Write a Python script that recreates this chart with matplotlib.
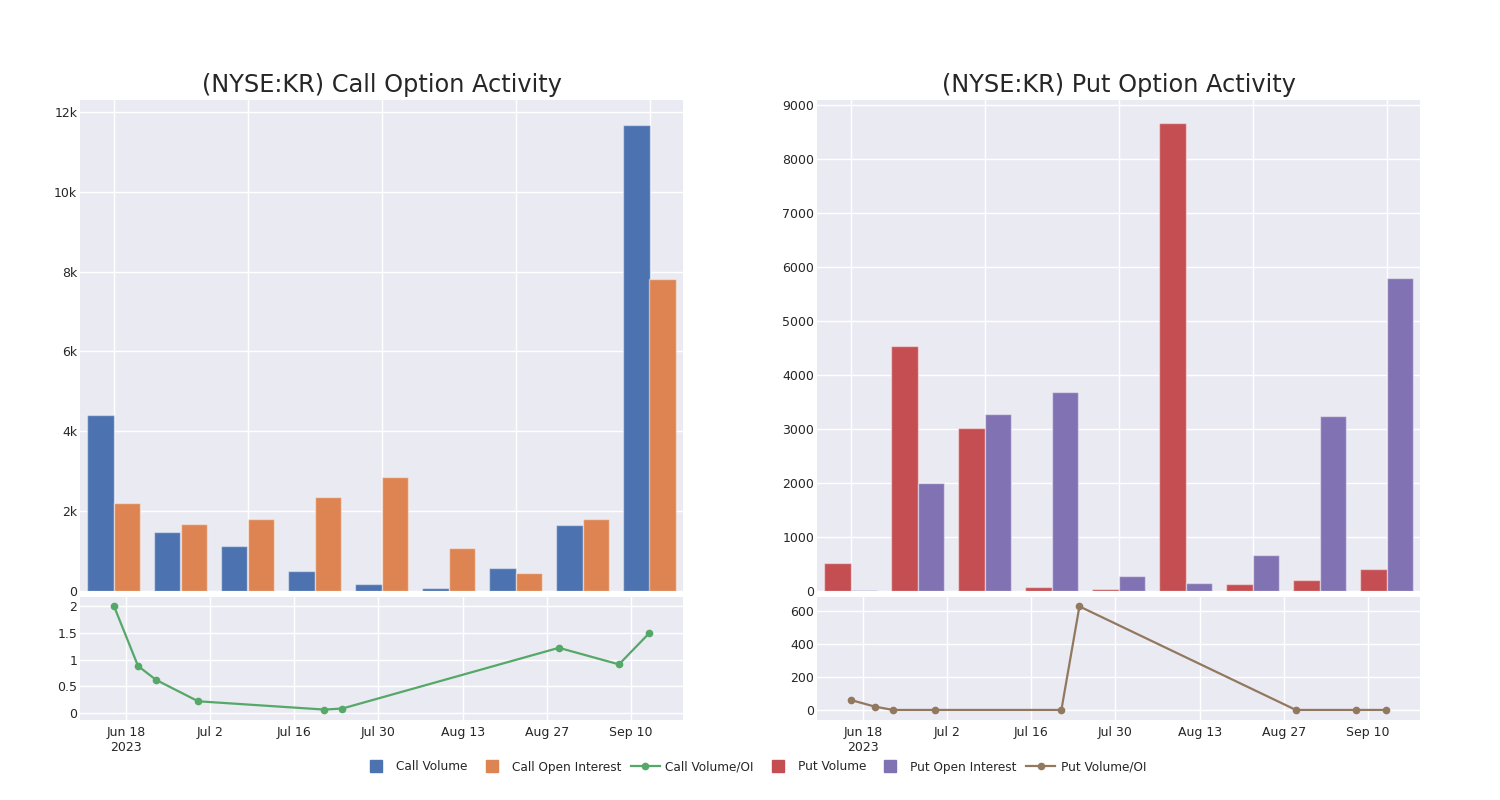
import matplotlib
matplotlib.use("Agg")
import matplotlib.pyplot as plt
from matplotlib.lines import Line2D
from matplotlib.ticker import FuncFormatter, FixedLocator
import numpy as np
import pandas as pd

# ---- data ----
groups = list(range(9))
call_volume = [4400, 1480, 1130, 500, 180, 80, 570, 1660, 11670]
call_oi = [2200, 1680, 1810, 2360, 2860, 1080, 460, 1810, 7810]
put_volume = [520, 4537, 3012, 74, 37, 8665, 130, 205, 409]
put_oi = [12, 2008, 3273, 3682, 279, 149, 669, 3235, 5801]

ratio_dates = ['2023-06-16', '2023-06-20', '2023-06-23', '2023-06-30', '2023-07-21',
               '2023-07-24', '2023-08-29', '2023-09-08', '2023-09-13']
call_ratio = [2.0, 0.88, 0.62, 0.22, 0.065, 0.085, 1.22, 0.91, 1.49]
put_ratio = [60, 20, 0, 0, 0, 628, 0, 0, 0]

titles = ["(NYSE:KR) Call Option Activity", "(NYSE:KR) Put Option Activity"]
legend_labels = ["Call Volume", "Call Open Interest", "Call Volume/OI",
                 "Put Volume", "Put Open Interest", "Put Volume/OI"]

# ---- style ----
BG = "#EAEAF2"
C_BLUE, C_ORANGE, C_GREEN = "#4C72B0", "#DD8452", "#55A868"
C_RED, C_PURPLE, C_BROWN = "#C44E52", "#8172B3", "#937860"
TXT = "#262626"

plt.rcParams['font.family'] = ['DejaVu Sans']

fig = plt.figure(figsize=(15, 8), dpi=100)
W, H = 1500.0, 800.0

def add_ax(x0, x1, y0, y1):
    return fig.add_axes([x0 / W, 1 - y1 / H, (x1 - x0) / W, (y1 - y0) / H])

axes_top = [add_ax(80, 683, 100, 591), add_ax(817, 1420, 100, 591)]
axes_bot = [add_ax(80, 683, 597, 720), add_ax(817, 1420, 597, 720)]

def style(ax):
    ax.set_facecolor(BG)
    for s in ax.spines.values():
        s.set_visible(False)
    ax.grid(True, color="white", linewidth=1.0)
    ax.set_axisbelow(True)
    ax.tick_params(length=0, labelsize=9, colors=TXT, pad=2)

kfmt = FuncFormatter(lambda v, p: "0" if v == 0 else f"{v/1000:g}k")
gfmt = FuncFormatter(lambda v, p: f"{v:g}")

x = np.array(groups, dtype=float)
bw = 0.4
bar_sets = [(call_volume, call_oi, C_BLUE, C_ORANGE, 12300),
            (put_volume, put_oi, C_RED, C_PURPLE, 9100)]
for i, ax in enumerate(axes_top):
    style(ax)
    v, oi, c1, c2, ytop = bar_sets[i]
    ax.bar(x - bw / 2, v, width=bw, color=c1, edgecolor=(1, 1, 1, 0.45), linewidth=1)
    ax.bar(x + bw / 2, oi, width=bw, color=c2, edgecolor=(1, 1, 1, 0.45), linewidth=1)
    ax.set_xlim(-0.5, 8.5)
    ax.xaxis.set_major_locator(FixedLocator([0, 2, 4, 6, 8]))
    ax.set_xticklabels([])
    ax.set_title(titles[i], fontsize=17.3, color=TXT, pad=6)
    if i == 0:
        ax.yaxis.set_major_formatter(kfmt)
        ax.set_yticks([0, 2000, 4000, 6000, 8000, 10000, 12000])
    else:
        ax.set_yticks(range(0, 9001, 1000))
    ax.set_ylim(0, ytop)

dates = pd.to_datetime(ratio_dates)
xlo = pd.Timestamp('2023-06-18') - pd.Timedelta(days=7.65)
xhi = pd.Timestamp('2023-06-18') + pd.Timedelta(days=92.65)
tick_dates = pd.date_range('2023-06-18', periods=7, freq='14D')
tick_labels = [d.strftime('%b %-d') for d in tick_dates]
tick_labels[0] = tick_labels[0] + "\n2023"

line_sets = [(call_ratio, C_GREEN, (-0.13, 2.17), [0, 0.5, 1, 1.5, 2]),
             (put_ratio, C_BROWN, (-61, 685), [0, 200, 400, 600])]
for i, ax in enumerate(axes_bot):
    style(ax)
    vals, col, yl, yt = line_sets[i]
    ax.plot(dates, vals, color=col, linewidth=1.6, marker='o', markersize=4.5)
    ax.set_xlim(xlo, xhi)
    ax.set_xticks(tick_dates)
    ax.set_xticklabels(tick_labels)
    ax.set_ylim(*yl)
    ax.set_yticks(yt)
    ax.yaxis.set_major_formatter(gfmt)
    ax.tick_params(axis='x', pad=4)

handles = [
    Line2D([], [], linestyle='none', marker='s', markersize=8.5, color=C_BLUE),
    Line2D([], [], linestyle='none', marker='s', markersize=8.5, color=C_ORANGE),
    Line2D([], [], color=C_GREEN, linewidth=1.6, marker='o', markersize=4.5),
    Line2D([], [], linestyle='none', marker='s', markersize=8.5, color=C_RED),
    Line2D([], [], linestyle='none', marker='s', markersize=8.5, color=C_PURPLE),
    Line2D([], [], color=C_BROWN, linewidth=1.6, marker='o', markersize=4.5),
]
fig.legend(handles, legend_labels, loc='center', bbox_to_anchor=(0.5027, 1 - 767 / H),
           ncol=6, frameon=False, fontsize=8.7, handlelength=2.4, handletextpad=0.45,
           columnspacing=0.8, labelcolor=TXT)

fig.savefig("out.png", dpi=100, facecolor="white")
